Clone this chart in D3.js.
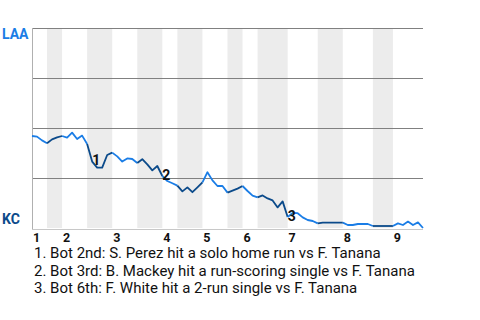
<!DOCTYPE html>
<html>
<head>
<meta charset="utf-8">
<script src="https://cdn.jsdelivr.net/npm/d3@7"></script>
<style>
  html, body { margin: 0; padding: 0; background: #fff; }
  svg { display: block; font-family: Roboto, "Noto Sans", sans-serif; }
</style>
</head>
<body>
<svg id="chart" width="480" height="320"></svg>
<script>
// LAA win probability (%) after each play, play index 0..78
const winProb = [
  46, 45.7, 43.8, 42.4, 44.3, 45.3, 46, 45.2, 47.7, 44.5,
  46.2, 42, 33.2, 30.2, 30.2, 36.5, 37.7, 35.8, 33.2, 34.8,
  34.5, 32.5, 34.4, 31.8, 28.8, 31, 26, 23.5, 22.4, 21.2,
  18.3, 20.3, 17.9, 20.3, 22.8, 27.9, 23.8, 21, 21, 17.7,
  18.7, 19.7, 21, 18.5, 16.2, 15.3, 16.3, 14.8, 13.8, 10.3,
  13.3, 5.5, 7.5, 7.4, 5.3, 4, 3.5, 2.3, 2.7, 2.7,
  2.7, 2.7, 2.7, 1.5, 1.5, 2, 2, 2, 1, 1,
  1, 1, 1, 2.3, 1.5, 3.2, 1.5, 2.8, 0
];
// play index where each half-inning starts (top 1, bot 1, top 2, ...), last = end
const halfInningStarts = [0, 3, 6, 11, 16, 21, 26, 29, 34, 39, 42, 45, 51, 57, 62, 68, 72, 78];
const inningLabels = ["1", "2", "3", "4", "5", "6", "7", "8", "9"];
const gridValues = [25, 50, 75, 100];
const teams = ["LAA", "KC"];
const teamColors = ["#1a7de6", "#0b4a8a"];
const annotationIdx = [12, 26, 51];
const annotationLabels = ["1", "2", "3"];
const annotationTexts = [
  "1. Bot 2nd: S. Perez hit a solo home run vs F. Tanana",
  "2. Bot 3rd: B. Mackey hit a run-scoring single vs F. Tanana",
  "3. Bot 6th: F. White hit a 2-run single vs F. Tanana"
];

const svg = d3.select("#chart");
const x = d3.scaleLinear().domain([0, winProb.length - 1]).range([32, 423]);
const y = d3.scaleLinear().domain([0, 100]).range([228, 28]);

// shaded bottom half-innings
const bands = [];
for (let k = 1; k < halfInningStarts.length - 1; k += 2) {
  bands.push([halfInningStarts[k], halfInningStarts[k + 1]]);
}
svg.append("g").selectAll("rect").data(bands).join("rect")
  .attr("x", d => x(d[0]))
  .attr("width", d => x(d[1]) - x(d[0]))
  .attr("y", y(100))
  .attr("height", y(0) - y(100))
  .attr("fill", "#ececec");

// gridlines
const grid = svg.append("g")
  .attr("transform", `translate(${x(0)},0)`)
  .call(d3.axisLeft(y).tickValues(gridValues).tickSize(-(x.range()[1] - x.range()[0])).tickFormat(""));
grid.select(".domain").remove();
grid.selectAll("line").attr("stroke", "#808080").attr("stroke-width", 1.2).attr("shape-rendering", "crispEdges");

// left axis & bottom axis lines
svg.append("line")
  .attr("x1", x(0)).attr("x2", x(0))
  .attr("y1", y(100)).attr("y2", y(0) + 1)
  .attr("stroke", "#b0b0b0").attr("stroke-width", 1).attr("shape-rendering", "crispEdges");
svg.append("line")
  .attr("x1", x(0)).attr("x2", x.range()[1])
  .attr("y1", y(0) + 1).attr("y2", y(0) + 1)
  .attr("stroke", "#c8c8c8").attr("stroke-width", 1).attr("shape-rendering", "crispEdges");

// inning labels
const inningStarts = halfInningStarts.filter((d, i) => i % 2 === 0).slice(0, inningLabels.length);
const xa = svg.append("g")
  .attr("transform", `translate(4,${y(0) + 1})`)
  .call(d3.axisBottom(x).tickValues(inningStarts).tickSize(0).tickPadding(4)
    .tickFormat((d, i) => inningLabels[i]));
xa.select(".domain").remove();
xa.selectAll("text")
  .attr("font-family", "Roboto, sans-serif")
  .attr("font-size", 12.5)
  .attr("font-weight", "bold")
  .attr("fill", "#111");

// win probability line, one path per half-inning
const line = d3.line().x((d) => x(d.i)).y(d => y(d.v));
const segs = [];
for (let k = 0; k < halfInningStarts.length - 1; k++) {
  const pts = [];
  for (let i = halfInningStarts[k]; i <= halfInningStarts[k + 1]; i++) pts.push({ i, v: winProb[i] });
  segs.push({ k, pts });
}
svg.append("g").selectAll("path").data(segs).join("path")
  .attr("d", d => line(d.pts))
  .attr("fill", "none")
  .attr("stroke", d => d.k % 2 === 0 ? teamColors[0] : teamColors[1])
  .attr("stroke-width", 1.8)
  .attr("stroke-linejoin", "round");

// annotation markers
svg.append("g").selectAll("text").data(annotationIdx).join("text")
  .attr("x", d => x(d))
  .attr("y", d => y(winProb[d]) + 3.5)
  .attr("font-size", 14)
  .attr("font-weight", "bold")
  .attr("fill", "#111")
  .text((d, i) => annotationLabels[i]);

// team labels
svg.append("text").attr("x", 2).attr("y", 39)
  .attr("font-size", 14).attr("font-weight", "bold")
  .attr("fill", teamColors[0]).text(teams[0]);
svg.append("text").attr("x", 2).attr("y", 224)
  .attr("font-size", 14).attr("font-weight", "bold")
  .attr("fill", teamColors[1]).text(teams[1]);

// annotation texts
svg.append("g").selectAll("text").data(annotationTexts).join("text")
  .attr("x", 34)
  .attr("y", (d, i) => 258.3 + i * 17.5)
  .attr("font-size", 15)
  .attr("fill", "#111")
  .text(d => d);
</script>
</body>
</html>
